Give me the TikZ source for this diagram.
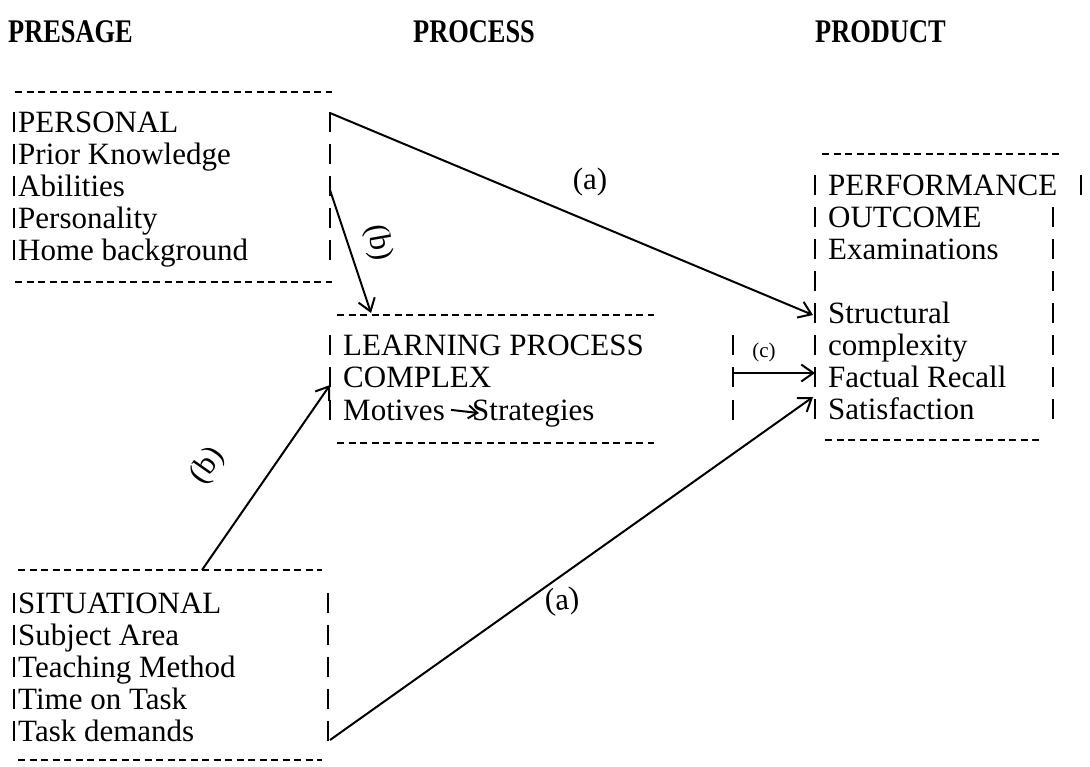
\documentclass[tikz,border=0pt]{standalone}
\usepackage{fontspec}
\setmainfont{Liberation Serif}
\usetikzlibrary{arrows.meta}
\tikzset{
  txt/.style={anchor=base west, inner sep=0pt, font=\fontsize{31}{32}\selectfont},
  heading/.style={anchor=base west, inner sep=0pt, xscale=0.8, font=\fontsize{33}{34}\selectfont\bfseries},
  rule/.style={line width=1.7pt, dash pattern=on 7pt off 4.5pt},
  bar/.style={line width=1.5pt},
  link/.style={line width=2pt, -{Straight Barb[length=12pt,width=17pt,line width=2pt]}},
  minilink/.style={line width=2pt, -{Straight Barb[length=9pt,width=13pt,line width=2pt]}},
  hand/.style={inner sep=0pt, font=\fontsize{31}{31}\selectfont}
}
\begin{document}
\begin{tikzpicture}[x=1pt,y=-1pt]
  \useasboundingbox (0,0) rectangle (1090,766);
  % headings
  \node[heading] (presage) at (8,42) {PRESAGE};
  \node[heading] (process) at (413,42) {PROCESS};
  \node[heading] (product) at (815,42) {PRODUCT};

  % personal box
  \draw[rule] (15,92) -- (332,92);
  \draw[rule] (15,282) -- (332,282);
  \foreach \t [count=\i] in {PERSONAL, Prior Knowledge, Abilities, Personality, Home background}
    \node[txt] (pers\i) at (18,{100+32*\i}) {\t};
  \foreach \b in {132,164,196,228,260} {
    \draw[bar] (14,\b) -- ++(0,-20);
    \draw[bar] (330,\b) -- ++(0,-20);
  }

  % learning process box
  \draw[rule] (337,315) -- (654,315);
  \draw[rule] (337,443) -- (654,443);
  \node[txt] (learn1) at (343,355) {LEARNING PROCESS};
  \node[txt] (learn2) at (343,387) {COMPLEX};
  \node[txt] (motives) at (343,420) {Motives};
  \node[txt] (strategies) at (472,420) {Strategies};
  \draw[minilink] ([xshift=6pt]motives.east) -- ([xshift=7pt]strategies.west);
  \foreach \b in {355,387,420} {
    \draw[bar] (330,\b) -- ++(0,-20);
    \draw[bar] (733,\b) -- ++(0,-20);
  }

  % situational box
  \draw[rule] (18,570) -- (322,570);
  \draw[rule] (18,760) -- (322,760);
  \foreach \t [count=\i] in {SITUATIONAL, Subject Area, Teaching Method, Time on Task, Task demands}
    \node[txt] (sit\i) at (18,{581+32*\i}) {\t};
  \foreach \b in {613,645,677,709,741} {
    \draw[bar] (14,\b) -- ++(0,-20);
    \draw[bar] (328,\b) -- ++(0,-20);
  }

  % product box
  \draw[rule] (822,154) -- (1062,154);
  \draw[rule] (825,440) -- (1043,440);
  \foreach \t [count=\i] in {PERFORMANCE, OUTCOME, Examinations, {}, Structural, complexity, Factual Recall, Satisfaction}
    \node[txt] (prod\i) at (828,{163+32*\i}) {\t};
  \foreach \b in {195,227,259,291,323,355,387,419}
    \draw[bar] (815,\b) -- ++(0,-20);
  \draw[bar] (1081,195) -- ++(0,-20);
  \foreach \b in {227,259,291,323,355,387,419}
    \draw[bar] (1053,\b) -- ++(0,-20);

  % connector ends
  \coordinate (persA) at (330,113);
  \coordinate (persB) at (330,190);
  \coordinate (learnIn) at (371,313);
  \coordinate (sitB) at (202,570);
  \coordinate (learnLeft) at (330,385);
  \coordinate (sitA) at (330,740);
  \coordinate (learnOut) at (733,373);
  \coordinate (prodStruct) at (813,315);
  \coordinate (prodRecall) at (815,373);
  \coordinate (prodSat) at (813,397);

  % paths
  \draw[link] (persA) -- (prodStruct);
  \draw[link] (persB) -- (learnIn);
  \draw[link] (sitB) -- (learnLeft);
  \draw[link] (learnOut) -- (prodRecall);
  \draw[link] (sitA) -- (prodSat);

  % path labels
  \node[hand] (labA1) at (590,182) {(a)};
  \node[hand, rotate=-80] (labB1) at (378,243) {(b)};
  \node[hand, rotate=55] (labB2) at (208,466) {(b)};
  \node[hand, font=\fontsize{21}{21}\selectfont] (labC) at (764,352) {(c)};
  \node[hand, rotate=5] (labA2) at (562,602) {(a)};
\end{tikzpicture}
\end{document}
